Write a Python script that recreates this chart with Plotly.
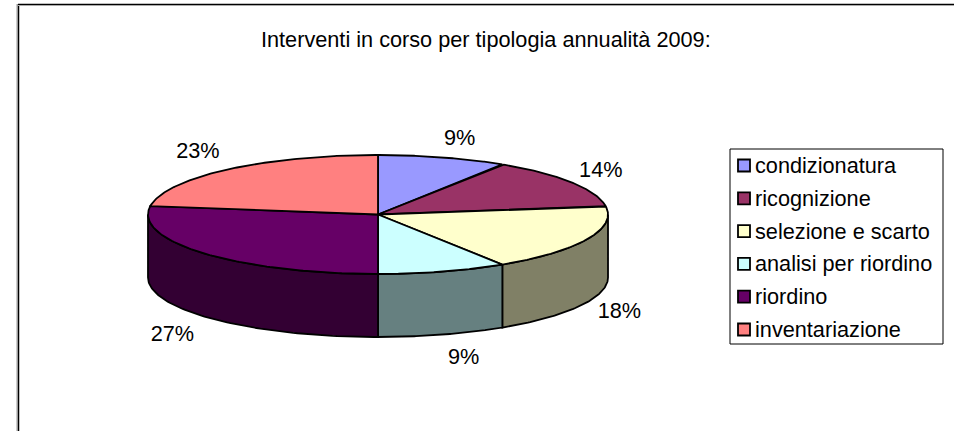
import numpy as np
import plotly.graph_objects as go

categories = ["condizionatura", "ricognizione", "selezione e scarto",
              "analisi per riordino", "riordino", "inventariazione"]
values = [2, 3, 4, 2, 6, 5]
top_colors = ["#9999FF", "#993366", "#FFFFCC", "#CCFFFF", "#660066", "#FF8080"]
side_colors = ["#4D4D80", "#4D1A33", "#808066", "#668080", "#330033", "#804040"]
title_text = "Interventi in corso per tipologia annualità 2009:"

W, H = 954, 431
CX, CY, RX, RY, DEPTH = 378, 214.5, 230, 59.5, 63
LAB_RX, LAB_RY = 272, 82
LAB_DX = [5, -6, -6, 9, 0, -2]
LAB_DY = [4, 1, 1, 2, 4, 0]
FONT = "Liberation Sans, Arial, sans-serif"
FS = 21.7
LW = 1.8


def ell(t):
    return CX + RX * np.sin(t), CY - RY * np.cos(t)


fracs = np.array(values, dtype=float) / sum(values)
edges = np.concatenate([[0], np.cumsum(fracs)]) * 2 * np.pi

fig = go.Figure()


def poly(x, y, color):
    fig.add_trace(go.Scatter(x=np.round(x, 2), y=np.round(y, 2), mode="lines", fill="toself",
                             fillcolor=color, line=dict(color="black", width=LW),
                             hoverinfo="skip", showlegend=False))


# side walls: only the part of each slice facing the viewer (90..270 degrees)
for i in range(len(values)):
    a = max(edges[i], np.pi / 2)
    b = min(edges[i + 1], 3 * np.pi / 2)
    if b > a:
        t = np.linspace(a, b, 80)
        x, y = ell(t)
        poly(np.concatenate([x, x[::-1], x[:1]]),
             np.concatenate([y, y[::-1] + DEPTH, y[:1]]), side_colors[i])

# top faces
for i in range(len(values)):
    t = np.linspace(edges[i], edges[i + 1], 120)
    x, y = ell(t)
    poly(np.concatenate([[CX], x, [CX]]), np.concatenate([[CY], y, [CY]]), top_colors[i])

# percentage labels around the pie
mids = (edges[:-1] + edges[1:]) / 2
lx = CX + LAB_RX * np.sin(mids) + np.array(LAB_DX)
ly = CY - LAB_RY * np.cos(mids) + np.where(np.cos(mids) < 0, DEPTH, 0) + np.array(LAB_DY)
fig.add_trace(go.Scatter(x=lx, y=ly, mode="text", text=[f"{f * 100:.0f}%" for f in fracs],
                         textposition="middle center",
                         textfont=dict(family=FONT, size=FS, color="black"),
                         hoverinfo="skip", showlegend=False))

# legend
LX0, LX1, LY0, LY1 = 730, 943, 149, 344
rows = 165.5 + 32.8 * np.arange(len(categories))
fig.add_shape(type="rect", x0=LX0, x1=LX1, y0=LY0, y1=LY1, line=dict(color="black", width=1),
              fillcolor="white", layer="below")
fig.add_trace(go.Scatter(x=[744] * len(categories), y=rows, mode="markers",
                         marker=dict(symbol="square", size=12, color=top_colors,
                                     line=dict(color="black", width=1.8)),
                         hoverinfo="skip", showlegend=False))
fig.add_trace(go.Scatter(x=[755] * len(categories), y=rows + 2, mode="text", text=categories,
                         textposition="middle right",
                         textfont=dict(family=FONT, size=FS, color="black"),
                         hoverinfo="skip", showlegend=False))

# chart frame
fig.add_shape(type="line", x0=17, x1=17, y0=4, y1=H, line=dict(color="#999999", width=1), layer="below")
fig.add_shape(type="line", x0=18.5, x1=18.5, y0=4, y1=H, line=dict(color="black", width=1.5), layer="below")
fig.add_shape(type="line", x0=18, x1=W, y0=4.5, y1=4.5, line=dict(color="black", width=1.5), layer="below")
fig.add_shape(type="line", x0=18, x1=W, y0=5.5, y1=5.5, line=dict(color="#aaaaaa", width=1), layer="below")

fig.add_annotation(x=485.5, y=39, text=title_text, showarrow=False,
                   font=dict(family=FONT, size=FS, color="black"))

fig.update_layout(width=W, height=H, margin=dict(l=0, r=0, t=0, b=0),
                  paper_bgcolor="white", plot_bgcolor="white", showlegend=False,
                  xaxis=dict(range=[0, W], visible=False, fixedrange=True),
                  yaxis=dict(range=[H, 0], visible=False, fixedrange=True))
fig.write_html("out.html", config=dict(displayModeBar=False),
               post_script="document.body.style.margin='0';document.body.style.overflow='hidden';")
